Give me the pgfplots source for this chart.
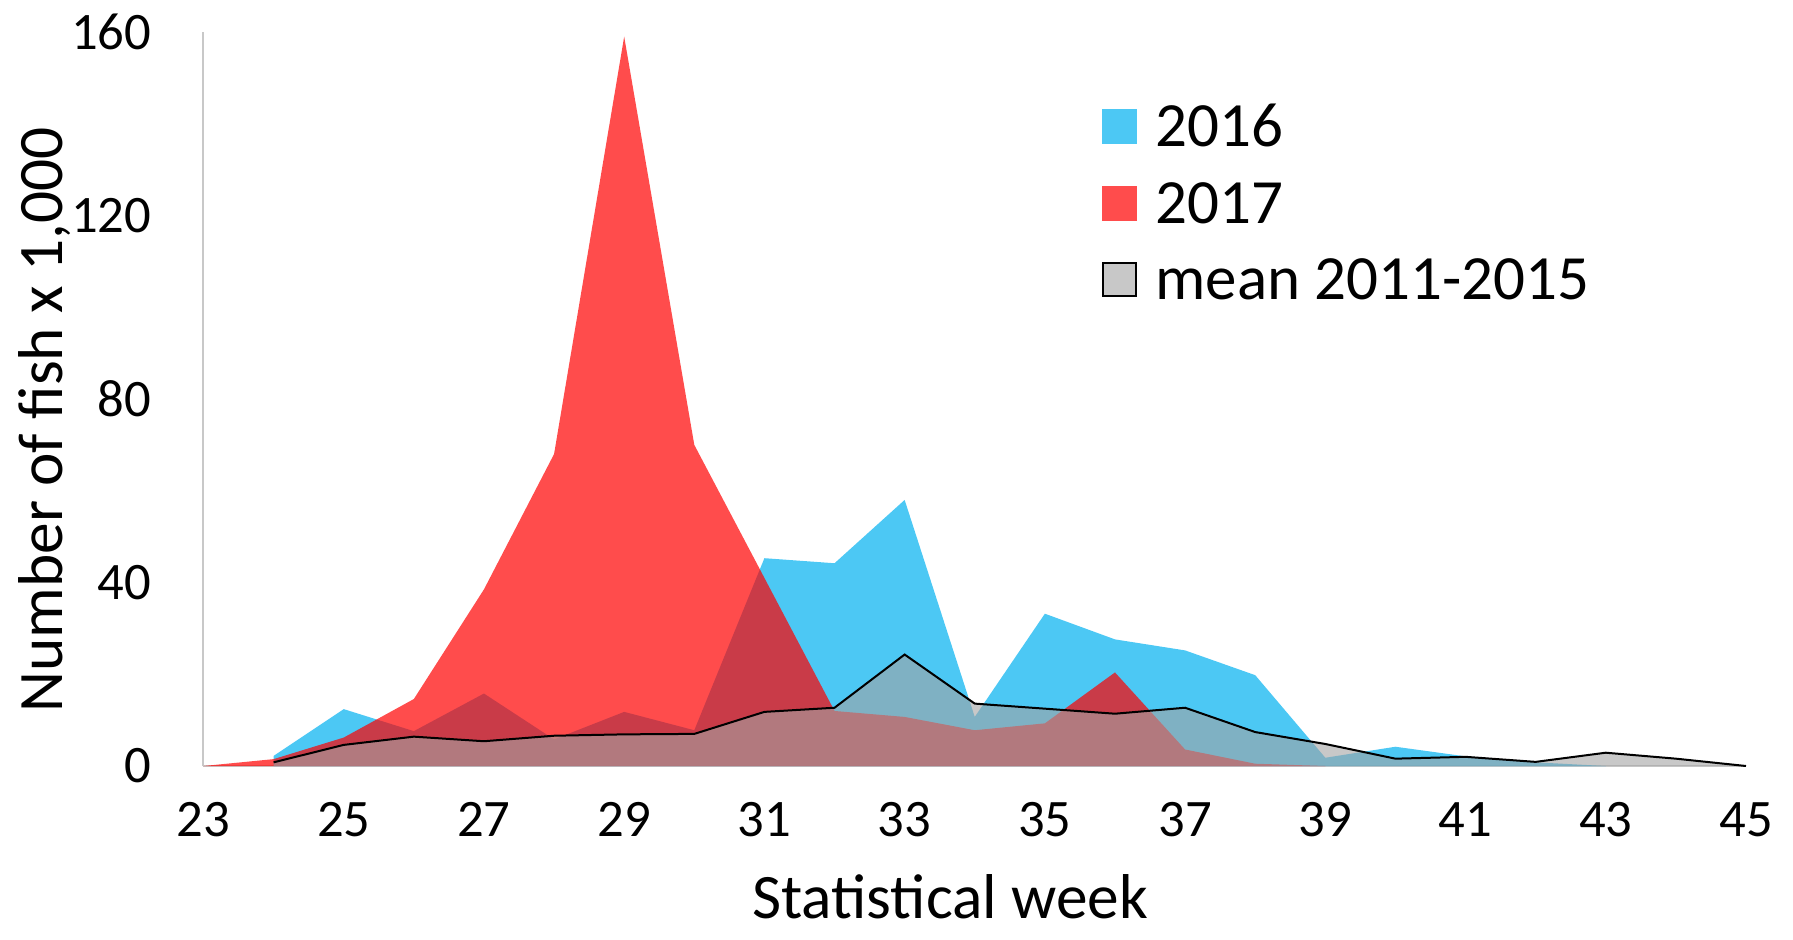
\documentclass[border=0pt]{standalone}
\usepackage{fontspec}
\setmainfont{Carlito}
\usepackage{pgfplots}
\pgfplotsset{compat=1.18}
\definecolor{c16}{RGB}{0,176,240}
\definecolor{c17}{RGB}{255,0,0}
\definecolor{cmean}{RGB}{163,163,163}
\definecolor{axgray}{RGB}{200,200,200}
\begin{document}
\begin{tikzpicture}
\path[use as bounding box] (-61.05pt,-51.9pt) rectangle (476.85pt,229.8pt);
\begin{axis}[
  at={(0,0)}, anchor=south west,
  scale only axis, width=462.75pt, height=220.2pt,
  xmin=23, xmax=45, ymin=0, ymax=160,
  xtick={23,25,...,45}, ytick={0,40,...,160},
  axis x line=bottom, axis y line=left,
  axis line style={-, draw=axgray, line width=0.6pt},
  major tick length=0pt,
  /pgf/number format/assume math mode=true,
  ticklabel style={font=\fontsize{15.8}{18}\selectfont},
  xticklabel style={anchor=base, yshift=-21.2pt},
  yticklabel style={anchor=east, inner sep=0pt, xshift=-15.5pt},
  every axis y label/.style={at={(axis description cs:-0.0912,0.4714)}, rotate=90, anchor=base, inner sep=0pt, font=\fontsize{19}{22}\selectfont},
  every axis x label/.style={at={(axis description cs:0.484,-0.2075)}, anchor=base, inner sep=0pt, font=\fontsize{19}{22}\selectfont},
  xlabel={Statistical week},
  ylabel={Number of fish x 1,000},
  legend style={at={(axis description cs:0.5818,0.8992)}, anchor=north west,
    draw=none, fill=none, inner sep=0pt, row sep=11pt, column sep=5.7pt,
    font=\fontsize{18.9}{22}\selectfont,
    nodes={inner sep=0pt, text height=12pt, text depth=0pt}},
  legend cell align=left,
]
\addplot[draw=none, fill=c16, fill opacity=0.7,
  legend image code/.code={\fill[c16, fill opacity=0.7] (0pt,-5.25pt) rectangle (10.5pt,5.25pt);}]
  coordinates {(24,2.2) (25,12.4) (26,7.6) (27,15.8) (28,5.8) (29,11.8) (30,7.8) (31,45.3) (32,44.2) (33,58) (34,10.7) (35,33.2) (36,27.6) (37,25.2) (38,19.8) (39,1.8) (40,4.2) (41,2.1) (42,0.8) (43,0)} \closedcycle;
\addlegendentry{2016}
\addplot[draw=none, fill=c17, fill opacity=0.7,
  legend image code/.code={\fill[c17, fill opacity=0.7] (0pt,-5.25pt) rectangle (10.5pt,5.25pt);}]
  coordinates {(23,0) (24,1.5) (25,6.2) (26,14.6) (27,38.5) (28,68) (29,159) (30,70) (31,41) (32,12) (33,10.7) (34,7.8) (35,9.3) (36,20.4) (37,3.6) (38,0.5) (39,0)} \closedcycle;
\addlegendentry{2017}
\addplot[draw=none, fill=cmean, fill opacity=0.6,
  legend image code/.code={\filldraw[fill=cmean, fill opacity=0.6, draw=black, line width=0.6pt] (0.3pt,-4.95pt) rectangle (10.2pt,4.95pt);}]
  coordinates {(24,0.8) (25,4.6) (26,6.4) (27,5.4) (28,6.6) (29,6.9) (30,7.0) (31,11.8) (32,12.7) (33,24.3) (34,13.6) (35,12.5) (36,11.4) (37,12.7) (38,7.4) (39,4.8) (40,1.6) (41,2.0) (42,0.9) (43,2.9) (44,1.6) (45,0)} \closedcycle;
\addlegendentry{mean 2011-2015}
\addplot[black, line width=0.6pt, forget plot]
  coordinates {(24,0.8) (25,4.6) (26,6.4) (27,5.4) (28,6.6) (29,6.9) (30,7.0) (31,11.8) (32,12.7) (33,24.3) (34,13.6) (35,12.5) (36,11.4) (37,12.7) (38,7.4) (39,4.8) (40,1.6) (41,2.0) (42,0.9) (43,2.9) (44,1.6) (45,0)};
\end{axis}
\end{tikzpicture}
\end{document}
